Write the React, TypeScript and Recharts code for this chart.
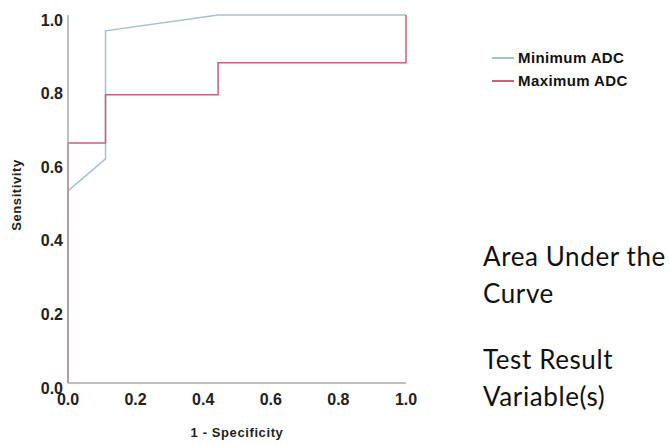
import React from 'react';
import { LineChart, Line, XAxis, YAxis } from 'recharts';

// --- ROC points ---
const minAdcFpr = [0, 0, 0.111, 0.111, 0.444, 1];
const minAdcTpr = [0, 0.522, 0.609, 0.957, 1, 1];
const maxAdcFpr = [0, 0, 0.111, 0.111, 0.444, 0.444, 1, 1];
const maxAdcTpr = [0, 0.652, 0.652, 0.783, 0.783, 0.87, 0.87, 1];
const axisTicks = [0, 0.2, 0.4, 0.6, 0.8, 1];
const seriesNames = ['Minimum ADC', 'Maximum ADC'];
const seriesColors = ['#a6c0d6', '#c9607c'];

const minAdcData = minAdcFpr.map((x, i) => ({ x, y: minAdcTpr[i] }));
const maxAdcData = maxAdcFpr.map((x, i) => ({ x, y: maxAdcTpr[i] }));

const tickFont = { fontFamily: 'Liberation Sans, Arial, sans-serif', fontWeight: 700, fontSize: 16, fill: '#222' };
const axisTitleFont = { ...tickFont, fontSize: 13, letterSpacing: 0.6 };
const sideText: React.CSSProperties = {
    position: 'absolute', left: 483, fontFamily: 'Lato, sans-serif', fontSize: 26, letterSpacing: 0.6,
    color: '#111', lineHeight: '37px', whiteSpace: 'nowrap',
};

// --- Legend dibuat manual supaya tidak menggeser area plot ---
const RocLegend: React.FC = () => (
    <div style={{ position: 'absolute', left: 492, top: 46, fontFamily: 'Liberation Sans, Arial, sans-serif', fontWeight: 700, fontSize: 15, letterSpacing: 0.4, color: '#111' }}>
        {seriesNames.map((name, i) => (
            <div key={name} style={{ display: 'flex', alignItems: 'center', height: 23 }}>
                <span style={{ display: 'inline-block', width: 22, height: 2, background: seriesColors[i], marginRight: 4 }} />
                {name}
            </div>
        ))}
    </div>
);

const App: React.FC = () => {
    return (
        <div style={{ position: 'absolute', left: 0, top: 0, width: 670, height: 445, background: '#fff', overflow: 'hidden' }}>
            <LineChart width={670} height={445} margin={{ top: 15, right: 264, bottom: 4, left: 0 }}>
                <XAxis
                    type="number"
                    dataKey="x"
                    domain={[0, 1]}
                    ticks={axisTicks}
                    tickFormatter={(v: number) => v.toFixed(1)}
                    allowDuplicatedCategory={false}
                    height={58}
                    tickLine={false}
                    tickSize={10}
                    tickMargin={1}
                    stroke="#aaa"
                    strokeWidth={1.5}
                    tick={tickFont}
                    label={{ value: '1 - Specificity', position: 'insideBottom', offset: 4, style: axisTitleFont }}
                />
                <YAxis
                    type="number"
                    domain={[0, 1]}
                    ticks={axisTicks}
                    tickFormatter={(v: number) => v.toFixed(1)}
                    width={68}
                    tickLine={false}
                    tickSize={5}
                    tickMargin={0}
                    stroke="#aaa"
                    strokeWidth={1.5}
                    tick={{ ...tickFont, dy: 5 }}
                    label={{ value: 'Sensitivity', angle: -90, position: 'insideLeft', offset: 16, dy: -4, style: { ...axisTitleFont, textAnchor: 'middle' } }}
                />
                <Line data={minAdcData} dataKey="y" name={seriesNames[0]} type="linear" stroke={seriesColors[0]} strokeWidth={1.5} dot={false} isAnimationActive={false} />
                <Line data={maxAdcData} dataKey="y" name={seriesNames[1]} type="linear" stroke={seriesColors[1]} strokeWidth={1.5} dot={false} isAnimationActive={false} />
            </LineChart>

            <RocLegend />
            <div style={{ ...sideText, top: 238 }}>Area Under the<br />Curve</div>
            <div style={{ ...sideText, top: 341 }}>Test Result<br />Variable(s)</div>
        </div>
    );
};

export default App;
